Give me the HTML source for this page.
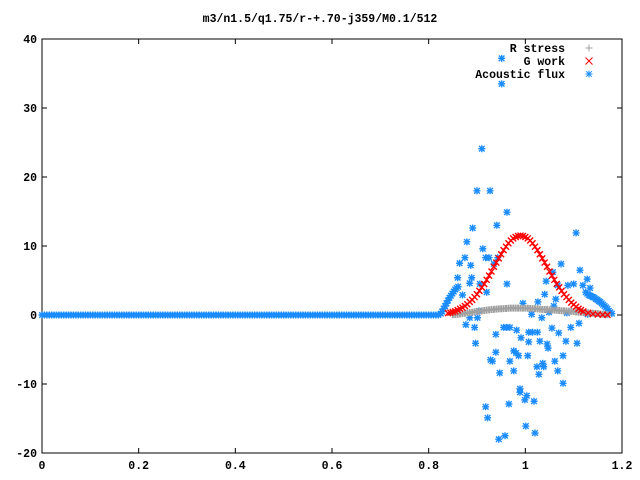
<!DOCTYPE html>
<html><head><meta charset="utf-8"><style>
html,body{margin:0;padding:0;background:#fff;}
svg{display:block;}
text{font-family:"Liberation Mono",monospace;font-weight:bold;font-size:11.5px;fill:#000;}
</style></head><body>
<svg id="chart" width="640" height="480" viewBox="0 0 640 480">
<rect x="0" y="0" width="640" height="480" fill="#fff"/>
<text x="320" y="22" text-anchor="middle">m3/n1.5/q1.75/r-+.70-j359/M0.1/512</text>
<g id="axes"></g>
<g id="marks"></g>
<g id="legend"></g>
</svg>
<script>
const xTicks=[0,0.2,0.4,0.6,0.8,1,1.2];
const xTickLabels=["0","0.2","0.4","0.6","0.8","1","1.2"];
const yTicks=[-20,-10,0,10,20,30,40];
const yTickLabels=["-20","-10","0","10","20","30","40"];
const seriesNames=["R stress","G work","Acoustic flux"];
// R stress
const rX=[0.85,0.855,0.86,0.865,0.87,0.875,0.88,0.885,0.89,0.895,0.90,0.905,0.91,0.915,0.92,0.925,0.93,0.935,0.94,0.945,0.95,0.955,0.96,0.965,0.97,0.975,0.98,0.985,0.99,0.995,1.00,1.005,1.01,1.015,1.02,1.025,1.03,1.035,1.04,1.045,1.05,1.055,1.06,1.065,1.07,1.075,1.08,1.085,1.09,1.095,1.10,1.105,1.11,1.115,1.12,1.125,1.13,1.135,1.14,1.145,1.15,1.155,1.16,1.165,1.17];
const rY=[0.05,0.08,0.1,0.15,0.2,0.25,0.3,0.35,0.4,0.45,0.5,0.55,0.6,0.65,0.7,0.75,0.8,0.82,0.85,0.88,0.9,0.92,0.95,0.98,1.0,1.0,1.0,1.0,1.0,1.0,1.0,0.98,0.95,0.92,0.9,0.88,0.85,0.82,0.8,0.78,0.75,0.72,0.7,0.68,0.65,0.62,0.6,0.58,0.55,0.52,0.5,0.45,0.4,0.38,0.35,0.32,0.3,0.28,0.25,0.22,0.2,0.15,0.1,0.08,0.05];
// G work
const gX=[0.84,0.845,0.85,0.855,0.86,0.865,0.87,0.875,0.88,0.885,0.89,0.895,0.90,0.905,0.91,0.915,0.92,0.925,0.93,0.935,0.94,0.945,0.95,0.955,0.96,0.965,0.97,0.975,0.98,0.985,0.99,0.995,1.00,1.005,1.01,1.015,1.02,1.025,1.03,1.035,1.04,1.045,1.05,1.055,1.06,1.065,1.07,1.075,1.08,1.085,1.09,1.095,1.10,1.105,1.11,1.115,1.12,1.13,1.14,1.15,1.16,1.17];
const gY=[0.28,0.35,0.45,0.55,0.7,0.9,1.07,1.3,1.56,1.9,2.2,2.6,3.0,3.5,4.0,4.5,5.1,5.7,6.3,7.0,7.6,8.2,8.8,9.4,9.9,10.4,10.8,11.1,11.3,11.45,11.5,11.45,11.3,11.1,10.8,10.4,9.9,9.4,8.8,8.2,7.6,7.0,6.3,5.7,5.1,4.5,4.0,3.5,3.0,2.6,2.2,1.8,1.5,1.2,0.9,0.7,0.5,0.3,0.15,0.08,0.04,0.02];
// Acoustic flux
const aX=[0,0.005,0.01,0.015,0.02,0.025,0.03,0.035,0.04,0.045,0.05,0.055,0.06,0.065,0.07,0.075,0.08,0.085,0.09,0.095,0.1,0.105,0.11,0.115,0.12,0.125,0.13,0.135,0.14,0.145,0.15,0.155,0.16,0.165,0.17,0.175,0.18,0.185,0.19,0.195,0.2,0.205,0.21,0.215,0.22,0.225,0.23,0.235,0.24,0.245,0.25,0.255,0.26,0.265,0.27,0.275,0.28,0.285,0.29,0.295,0.3,0.305,0.31,0.315,0.32,0.325,0.33,0.335,0.34,0.345,0.35,0.355,0.36,0.365,0.37,0.375,0.38,0.385,0.39,0.395,0.4,0.405,0.41,0.415,0.42,0.425,0.43,0.435,0.44,0.445,0.45,0.455,0.46,0.465,0.47,0.475,0.48,0.485,0.49,0.495,0.5,0.505,0.51,0.515,0.52,0.525,0.53,0.535,0.54,0.545,0.55,0.555,0.56,0.565,0.57,0.575,0.58,0.585,0.59,0.595,0.6,0.605,0.61,0.615,0.62,0.625,0.63,0.635,0.64,0.645,0.65,0.655,0.66,0.665,0.67,0.675,0.68,0.685,0.69,0.695,0.7,0.705,0.71,0.715,0.72,0.725,0.73,0.735,0.74,0.745,0.75,0.755,0.76,0.765,0.77,0.775,0.78,0.785,0.79,0.795,0.8,0.805,0.81,0.815,0.82,0.825,0.828,0.831,0.834,0.837,0.84,0.843,0.846,0.849,0.852,0.855,0.858,0.861,
0.910,0.900,0.927,0.962,0.891,0.941,0.879,0.912,0.875,0.864,0.918,0.925,0.943,0.887,0.935,0.860,0.889,0.885,0.906,0.962,0.920,0.870,1.105,1.074,1.113,1.128,1.043,1.057,1.067,1.088,1.100,1.119,1.134,1.040,1.063,1.026,0.995,1.059,1.013,1.049,0.904,0.885,0.901,1.034,1.086,1.129,0.877,0.895,1.111,1.094,0.955,0.961,0.968,0.982,1.055,1.069,0.939,0.991,1.007,1.015,1.025,1.007,1.030,1.045,1.047,1.084,1.107,0.897,0.939,0.976,0.981,0.986,1.005,0.928,0.932,0.968,1.078,1.061,1.036,1.038,1.024,0.947,0.976,1.028,1.067,1.078,0.989,0.989,1.003,0.999,1.018,0.966,0.918,0.922,1.001,1.020,0.958,0.945,0.951,0.951,
1.125,1.128,1.131,1.134,1.137,1.14,1.143,1.146,1.149,1.152,1.155,1.158,1.161,1.164,1.167,1.17,1.173,1.176,1.179];
const aY=[0,0,0,0,0,0,0,0,0,0,0,0,0,0,0,0,0,0,0,0,0,0,0,0,0,0,0,0,0,0,0,0,0,0,0,0,0,0,0,0,0,0,0,0,0,0,0,0,0,0,0,0,0,0,0,0,0,0,0,0,0,0,0,0,0,0,0,0,0,0,0,0,0,0,0,0,0,0,0,0,0,0,0,0,0,0,0,0,0,0,0,0,0,0,0,0,0,0,0,0,0,0,0,0,0,0,0,0,0,0,0,0,0,0,0,0,0,0,0,0,0,0,0,0,0,0,0,0,0,0,0,0,0,0,0,0,0,0,0,0,0,0,0,0,0,0,0,0,0,0,0,0,0,0,0,0,0,0,0,0,0,0,0,0,0,0.2,0.5,0.9,1.3,1.7,2.1,2.5,2.8,3.1,3.4,3.7,3.9,4.1,
24.1,18.0,18.0,14.9,12.6,13.0,10.6,9.6,8.3,7.5,8.3,8.3,8.3,7.2,7.4,5.4,5.4,4.6,4.5,4.5,3.3,2.9,11.9,7.4,6.5,5.2,4.9,6.2,4.3,4.3,4.5,4.3,3.9,3.0,2.3,1.9,1.7,1.3,0.1,0.4,0.6,-0.4,-0.4,-0.4,0.3,0.1,-1.4,-1.8,-1.2,-1.8,-1.8,-1.8,-1.8,-2.2,-1.9,-2.6,-2.8,-3.3,-2.5,-2.5,-2.5,-3.9,-3.8,-4.2,-4.8,-3.8,-4.1,-4.1,-5.4,-5.2,-5.5,-5.9,-5.9,-6.5,-6.7,-6.7,-5.9,-6.7,-7.0,-7.5,-7.5,-8.4,-8.1,-8.6,-8.1,-9.9,-10.7,-11.2,-11.7,-12.3,-12.5,-12.9,-13.3,-14.9,-16.1,-17.1,-17.5,-18.0,37.2,33.5,
3.3,3.1,2.9,2.8,2.7,2.6,2.5,2.3,2.2,2.0,1.9,1.7,1.5,1.3,1.1,0.9,0.6,0.4,0.2];

const L=42,R=622,T=39,B=453;
const xMin=0,xMax=1.2,yMin=-20,yMax=40;
function sx(v){return L+(v-xMin)/(xMax-xMin)*(R-L);}
function sy(v){return B-(v-yMin)/(yMax-yMin)*(B-T);}
const NS="http://www.w3.org/2000/svg";
function mk(tag,attrs,parent){const e=document.createElementNS(NS,tag);for(const k in attrs)e.setAttribute(k,attrs[k]);parent.appendChild(e);return e;}
const axes=document.getElementById('axes'),marks=document.getElementById('marks'),legend=document.getElementById('legend');
const frame=mk('rect',{x:L,y:T,width:R-L,height:B-T,fill:'none',stroke:'#000','stroke-width':1},axes);


xTicks.forEach((v,i)=>{
  const x=sx(v);
  const t1=mk('line',{x1:x,y1:B,x2:x,y2:B-5,stroke:'#000'},axes);
  
  
  const t2=mk('line',{x1:x,y1:T,x2:x,y2:T+5,stroke:'#000'},axes);
  
  
  const tx=mk('text',{x:x,y:B+16,'text-anchor':'middle'},axes);tx.textContent=xTickLabels[i];
  
  
});
yTicks.forEach((v,i)=>{
  const y=sy(v);
  const t1=mk('line',{x1:L,y1:y,x2:L+5,y2:y,stroke:'#000'},axes);
  
  
  const t2=mk('line',{x1:R,y1:y,x2:R-5,y2:y,stroke:'#000'},axes);
  
  
  const tx=mk('text',{x:L-5,y:y+4,'text-anchor':'end'},axes);tx.textContent=yTickLabels[i];
  
  
});
function plus(x,y,c,g,s,w){mk('path',{d:`M${x-s} ${y}H${x+s}M${x} ${y-s}V${y+s}`,stroke:c,'stroke-width':w,fill:'none'},g);}
function cross(x,y,c,g,s,w){mk('path',{d:`M${x-s} ${y-s}L${x+s} ${y+s}M${x-s} ${y+s}L${x+s} ${y-s}`,stroke:c,'stroke-width':w,fill:'none'},g);}
function star(x,y,c,g,s,w){plus(x,y,c,g,s,w);cross(x,y,c,g,s*0.8,w);}
const colR='#a0a0a0',colG='#ff0000',colA='#1a8cff';
const gA=mk('g',{},marks);


const gR=mk('g',{},marks);


const gG=mk('g',{},marks);


aX.forEach((v,i)=>star(sx(v),sy(aY[i]),colA,gA,3.5,1.4));
rX.forEach((v,i)=>plus(sx(v),sy(rY[i]),colR,gR,3.5,2));
gX.forEach((v,i)=>cross(sx(v),sy(gY[i]),colG,gG,3,1.4));
const markers=[plus,cross,star],cols=[colR,colG,colA];
seriesNames.forEach((n,i)=>{
  const y=48+i*13;
  const tx=mk('text',{x:565,y:y+4,'text-anchor':'end'},legend);tx.textContent=n;
  
  
  const g=mk('g',{},legend);
  
  
  markers[i](589,y,cols[i],g,3.5,1);
});
</script>
</body></html>
